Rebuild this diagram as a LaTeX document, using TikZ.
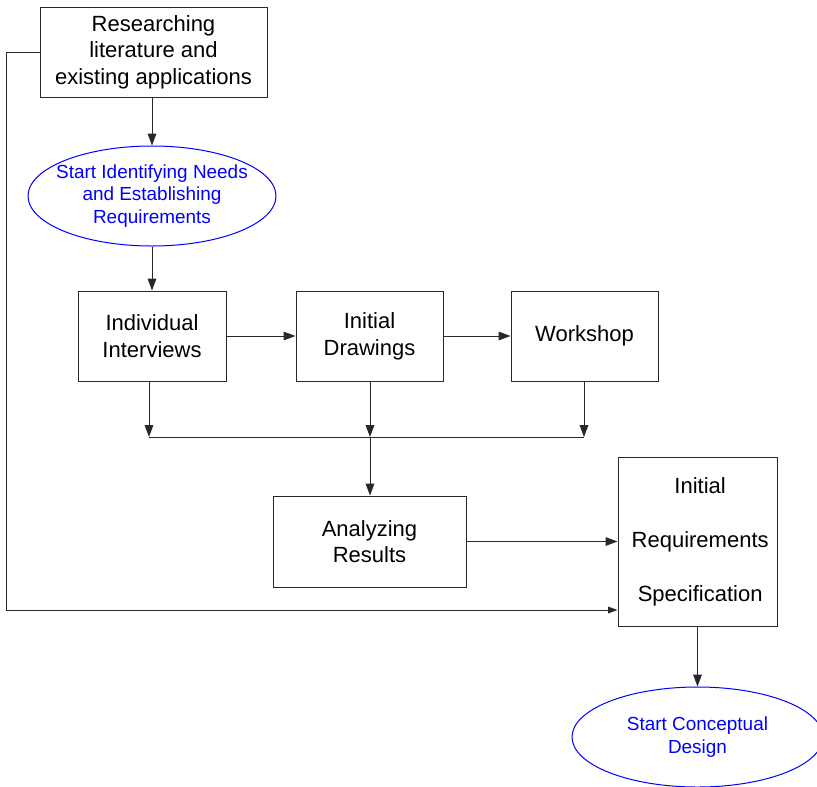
\documentclass[tikz,border=0pt]{standalone}
\usepackage{fontspec}
\setmainfont{Liberation Sans}
\usetikzlibrary{arrows.meta,shapes.geometric}
\definecolor{pureblue}{RGB}{0,0,255}
\definecolor{linegray}{RGB}{40,40,40}
\begin{document}
\begin{tikzpicture}[x=0.75pt,y=-0.75pt,
  box/.style={draw=linegray,line width=0.75pt,rectangle,inner sep=2pt,align=center,
    font=\fontsize{16.5}{20}\selectfont},
  startoval/.style={draw=pureblue,line width=0.75pt,ellipse,inner ysep=0pt,align=center,
    text=pureblue,font=\fontsize{14.2}{17}\selectfont},
  conn/.style={draw=linegray,line width=0.75pt,-{Triangle[length=9pt,width=6.5pt]}},
  plain/.style={draw=linegray,line width=0.75pt}]
\clip (0,0) rectangle (817,786);
\fill[white] (0,0) rectangle (817,786);

% process boxes
\node[box,minimum width=170.25pt,minimum height=67.5pt] (research) at (153.5,52)
  {Researching\\literature and\\existing applications};
\node[box,minimum width=111pt,minimum height=67.5pt] (interviews) at (152,336)
  {Individual\\Interviews};
\node[box,minimum width=110.25pt,minimum height=67.5pt] (drawings) at (369.5,336)
  {Initial\\Drawings};
\node[box,minimum width=110.25pt,minimum height=67.5pt] (workshop) at (584.5,336)
  {Workshop};
\node[box,minimum width=144.75pt,minimum height=68.25pt] (analyzing) at (369.5,541.5)
  {Analyzing\\Results};
\node[box,minimum width=119.25pt,minimum height=126.75pt] (spec) at (697.5,541.5)
  {\hspace*{4pt}Initial\\[20.5pt]\hspace*{4pt}Requirements\\[20.5pt]\hspace*{4pt}Specification};

% start / milestone ovals
\node[startoval,inner xsep=-8pt,minimum width=186pt,minimum height=75pt] (needs) at (152,196)
  {Start Identifying Needs\\and Establishing\\Requirements};
\node[startoval,inner xsep=0pt,minimum width=188.25pt,minimum height=75pt] (concept) at (697.5,737)
  {Start Conceptual\\Design};

% join line below the three activities
\coordinate (jl) at (149,437);
\coordinate (jm) at (370,437);
\coordinate (jr) at (584,437);

% connectors
\draw[conn] (needs.north |- research.south) -- (needs.north);
\draw[conn] (needs.south) -- (interviews.north);
\draw[conn] (interviews.east) -- (drawings.west);
\draw[conn] (drawings.east) -- (workshop.west);
\draw[conn] (interviews.south -| jl) -- (jl);
\draw[conn] (drawings.south -| jm) -- (jm);
\draw[conn] (workshop.south -| jr) -- (jr);
\draw[plain] (jl) -- (jr);
\draw[conn] (jm) -- (analyzing.north -| jm);
\draw[conn] (analyzing.east) -- (spec.west);
\draw[conn] (concept.north |- spec.south) -- (concept.north);

% bypass from the literature research straight to the specification
\coordinate (bypass) at (6,610);
\draw[draw=linegray,line width=0.75pt,-{Triangle[length=7pt,width=5pt]}]
  (research.west) -| (bypass) -- (bypass -| spec.west);
\end{tikzpicture}
\end{document}
